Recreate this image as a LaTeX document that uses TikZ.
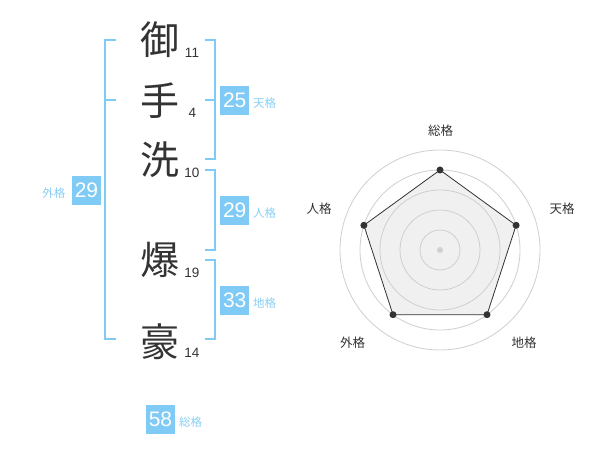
\documentclass[tikz,border=0pt]{standalone}
\usepackage{fontspec}
\newfontfamily\cjk{Noto Sans CJK JP}
\newfontfamily\num{Liberation Sans}
\definecolor{sky}{HTML}{80CBF6}
\definecolor{skytext}{HTML}{88CFF5}
\definecolor{ink}{HTML}{333333}
\definecolor{ring}{HTML}{CFCFCF}
\definecolor{area}{HTML}{F0F0F0}
\tikzset{
  kanji/.style={inner sep=0pt, text=ink, font=\cjk\fontsize{39}{39}\selectfont},
  strokes/.style={inner sep=0pt, text=ink, font=\num\fontsize{13.5}{14}\selectfont},
  numbox/.style={fill=sky, text=white, minimum width=29pt, minimum height=29pt, inner sep=0pt, font=\num\fontsize{21}{21}\selectfont},
  kaku/.style={inner sep=0pt, text=skytext, font=\cjk\fontsize{11.5}{12}\selectfont},
  brk/.style={draw=sky, line width=2pt},
  rlabel/.style={inner sep=0pt, text=ink, font=\cjk\fontsize{12.5}{13}\selectfont},
  ringline/.style={draw=ring, line width=0.8pt},
  vdot/.style={circle, fill=ink, inner sep=0pt, minimum size=7pt},
}
\begin{document}
\begin{tikzpicture}[x=1pt,y=-1pt]
\useasboundingbox[fill=white] (0,0) rectangle (600,470);
% brackets
\draw[brk] (116,40) -- (105,40) -- (105,339) -- (116,339);
\draw[brk] (105,100) -- (116,100);
\draw[brk] (205,40) -- (214.5,40) -- (214.5,159.5) -- (205,159.5);
\draw[brk] (205,100) -- (214.5,100);
\draw[brk] (205,170) -- (214.5,170) -- (214.5,250) -- (205,250);
\draw[brk] (205,260) -- (214.5,260) -- (214.5,339) -- (205,339);
% kanji
\node[kanji] (k1) at (160,40) {御};
\node[kanji] (k2) at (160,101) {手};
\node[kanji] (k3) at (160,160) {洗};
\node[kanji] (k4) at (160,260) {爆};
\node[kanji] (k5) at (160,342) {豪};
\node[strokes] (s1) at (192,53) {11};
\node[strokes] (s2) at (192.5,113) {4};
\node[strokes] (s3) at (192,172.5) {10};
\node[strokes] (s4) at (192,272.5) {19};
\node[strokes] (s5) at (192,352.5) {14};
% boxes
\node[numbox] (ten) at (234.7,100.5) {25};
\node[kaku, anchor=west] (tenl) at (253,103) {天格};
\node[numbox] (jin) at (234.7,210.5) {29};
\node[kaku, anchor=west] (jinl) at (253,213) {人格};
\node[numbox] (chi) at (234.7,300.5) {33};
\node[kaku, anchor=west] (chil) at (253,303.5) {地格};
\node[numbox] (gai) at (86.5,190.5) {29};
\node[kaku, anchor=east] (gail) at (65.5,193) {外格};
\node[numbox] (sou) at (160.5,419) {58};
\node[kaku, anchor=west] (soul) at (179,422) {総格};
% radar
\coordinate (c) at (440,250);
\coordinate (p1) at (440,170);
\coordinate (p2) at (516.1,225.3);
\coordinate (p3) at (487.0,314.7);
\coordinate (p4) at (393.0,314.7);
\coordinate (p5) at (363.9,225.3);
\fill[area] (p1) -- (p2) -- (p3) -- (p4) -- (p5) -- cycle;
\foreach \r in {20,40,60,80,100} \draw[ringline] (c) circle[radius=\r];
\draw[ink, line width=0.8pt] (p1) -- (p2) -- (p3) -- (p4) -- (p5) -- cycle;
\fill[ring] (c) circle[radius=3];
\node[vdot] (d1) at (p1) {};
\node[vdot] (d2) at (p2) {};
\node[vdot] (d3) at (p3) {};
\node[vdot] (d4) at (p4) {};
\node[vdot] (d5) at (p5) {};
\node[rlabel] (r1) at (440.5,130.5) {総格};
\node[rlabel] (r2) at (562,209) {天格};
\node[rlabel] (r3) at (319,209) {人格};
\node[rlabel] (r4) at (352.5,342.5) {外格};
\node[rlabel] (r5) at (524,342.5) {地格};
\end{tikzpicture}
\end{document}
